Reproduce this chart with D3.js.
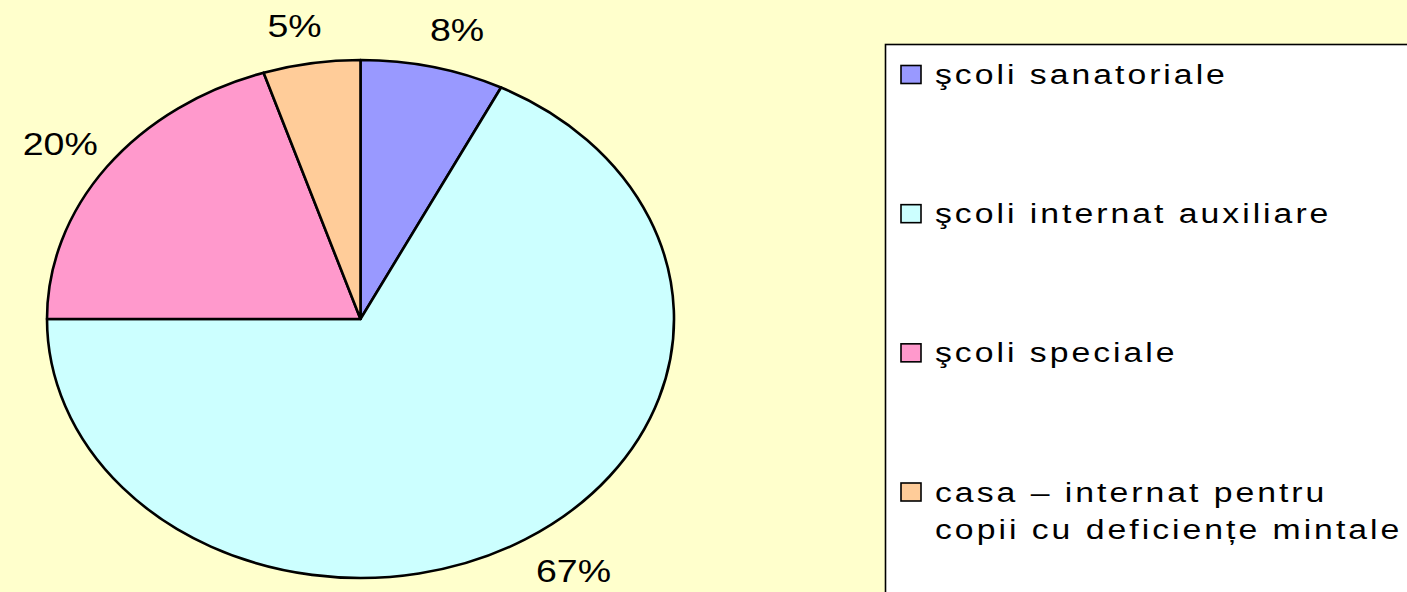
<!DOCTYPE html>
<html>
<head>
<meta charset="utf-8">
<script src="https://cdn.jsdelivr.net/npm/d3@7"></script>
<style>
  html, body { margin: 0; padding: 0; background: #FFFFCC; }
  svg { display: block; }
  text { font-family: "Liberation Sans", Arial, sans-serif; fill: #000; }
</style>
</head>
<body>
<script>
// slice data
const categories = ["şcoli sanatoriale", "şcoli internat auxiliare", "şcoli speciale", "casa – internat pentru\ncopii cu deficiențe mintale"];
const shares = [7.4, 67.6, 20, 5];
const shareLabels = ["8%", "67%", "20%", "5%"];
const colors = ["#9999FF", "#CCFFFF", "#FF99CC", "#FFCC99"];

const width = 1407, height = 592;
const cx = 360.5, cy = 319;
const rx = 313.5, ry = 259;
const stretch = rx / ry; // the picture is wider than tall

const svg = d3.select("body").append("svg")
    .attr("width", width)
    .attr("height", height);

const pie = d3.pie().sort(null).value(d => d)(shares);
const arc = d3.arc().innerRadius(0).outerRadius(ry);

// pie drawn as a circle, then stretched into an ellipse
const pieG = svg.append("g")
    .attr("transform", `translate(${cx},${cy}) scale(${stretch},1)`);

pieG.selectAll("path")
    .data(pie)
    .enter().append("path")
    .attr("d", arc)
    .attr("fill", (d, i) => colors[i])
    .attr("stroke", "#000")
    .attr("stroke-width", 2.6)
    .attr("vector-effect", "non-scaling-stroke")
    .attr("stroke-linejoin", "round");

// percent labels outside the slices
const labelSize = 31;
svg.selectAll(".pct")
    .data(pie)
    .enter().append("text")
    .attr("class", "pct")
    .attr("font-size", labelSize)
    .attr("text-anchor", "middle")
    .attr("dominant-baseline", "central")
    .attr("transform", (d, i) => {
        let a = (d.startAngle + d.endAngle) / 2;
        let s = Math.sin(a), c = Math.cos(a);
        let hw = shareLabels[i].length * 0.5 * labelSize * 0.72 * stretch / 2 + 6;
        let hh = 12;
        // labels near top/bottom sit a bit further out sideways
        let kx = 1.0 + 0.29 * c * c;
        let x = cx + rx * kx * s + s * hw;
        let y = cy - ry * 1.1 * c - c * hh;
        return `translate(${x},${y}) scale(${stretch},1)`;
    })
    .text((d, i) => shareLabels[i]);

// legend
const legend = svg.append("g");
legend.append("rect")
    .attr("x", 885.5)
    .attr("y", 44.5)
    .attr("width", 600)
    .attr("height", 600)
    .attr("fill", "#fff")
    .attr("stroke", "#000")
    .attr("stroke-width", 1.6);

const itemY = d3.scaleLinear().domain([0, categories.length - 1]).range([74.5, 492]);

let items = legend.selectAll(".item")
    .data(categories)
    .enter().append("g")
    .attr("class", "item")
    .attr("transform", (d, i) => "translate(0," + itemY(i) + ")");

items.append("rect")
    .attr("x", 901)
    .attr("y", -9)
    .attr("width", 20)
    .attr("height", 18)
    .attr("fill", (d, i) => colors[i])
    .attr("stroke", "#000")
    .attr("stroke-width", 1.6);

items.append("text")
    .attr("font-size", 27)
    .attr("letter-spacing", 2.4)
    .attr("transform", `translate(935,0) scale(1.25,1)`)
    .selectAll("tspan")
    .data(d => d.split("\n"))
    .enter().append("tspan")
    .attr("x", 0)
    .attr("y", (d, j) => 9.5 + j * 38)
    .text(d => d);
</script>
</body>
</html>
